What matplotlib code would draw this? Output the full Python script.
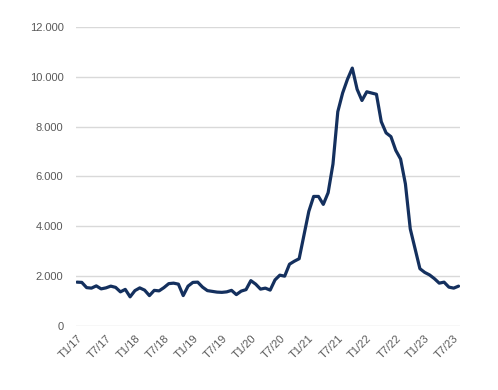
import numpy as np
import matplotlib
matplotlib.use("Agg")
import matplotlib.pyplot as plt
from matplotlib.ticker import FuncFormatter

# Monthly values, Jan 2017 - Aug 2023
values = [
    1760, 1750, 1540, 1520, 1610, 1490, 1530, 1600, 1550, 1370,
    1470, 1170, 1420, 1530, 1440, 1220, 1430, 1410, 1540, 1700,
    1720, 1680, 1220, 1600, 1750, 1760, 1560, 1420, 1390, 1360,
    1350, 1370, 1430, 1260, 1400, 1460, 1820, 1680, 1480, 1520,
    1440, 1850, 2040, 2000, 2480, 2600, 2700, 3650, 4600, 5200,
    5200, 4880, 5350, 6500, 8600, 9350, 9900, 10350, 9500, 9050,
    9400, 9350, 9300, 8200, 7750, 7600, 7050, 6700, 5700, 3900,
    3100, 2300, 2150, 2050, 1900, 1720, 1760, 1560, 1520, 1600,
]
tick_labels = ["T1/17", "T7/17", "T1/18", "T7/18", "T1/19", "T7/19", "T1/20",
               "T7/20", "T1/21", "T7/21", "T1/22", "T7/22", "T1/23", "T7/23"]
y_ticks = [0, 2000, 4000, 6000, 8000, 10000, 12000]

plt.rcParams["font.family"] = ["Liberation Sans", "DejaVu Sans"]

fig = plt.figure(figsize=(4.98, 3.9), dpi=100)
ax = fig.add_axes([0.1526, 0.1641, 0.7711, 0.7667])

x = np.arange(len(values))
ax.plot(x, values, color="#14305e", linewidth=2.3,
        solid_joinstyle="round", solid_capstyle="round", zorder=3)

ax.set_xlim(-0.2, 79.3)
ax.set_ylim(0, 12000)
ax.set_yticks(y_ticks)
ax.yaxis.set_major_formatter(
    FuncFormatter(lambda v, p: f"{int(v):,}".replace(",", ".")))
ax.set_xticks(np.arange(0, 6 * len(tick_labels), 6))
ax.set_xticklabels(tick_labels, rotation=45, ha="right",
                   rotation_mode="anchor")

ax.grid(axis="y", color="#d9d9d9", linewidth=1.0)
ax.set_axisbelow(True)
for side in ["top", "right", "left", "bottom"]:
    ax.spines[side].set_visible(False)
ax.tick_params(axis="both", length=0, labelsize=8, labelcolor="#595959")
ax.tick_params(axis="y", pad=9)
ax.tick_params(axis="x", pad=5)

fig.savefig("out.png", dpi=100)
